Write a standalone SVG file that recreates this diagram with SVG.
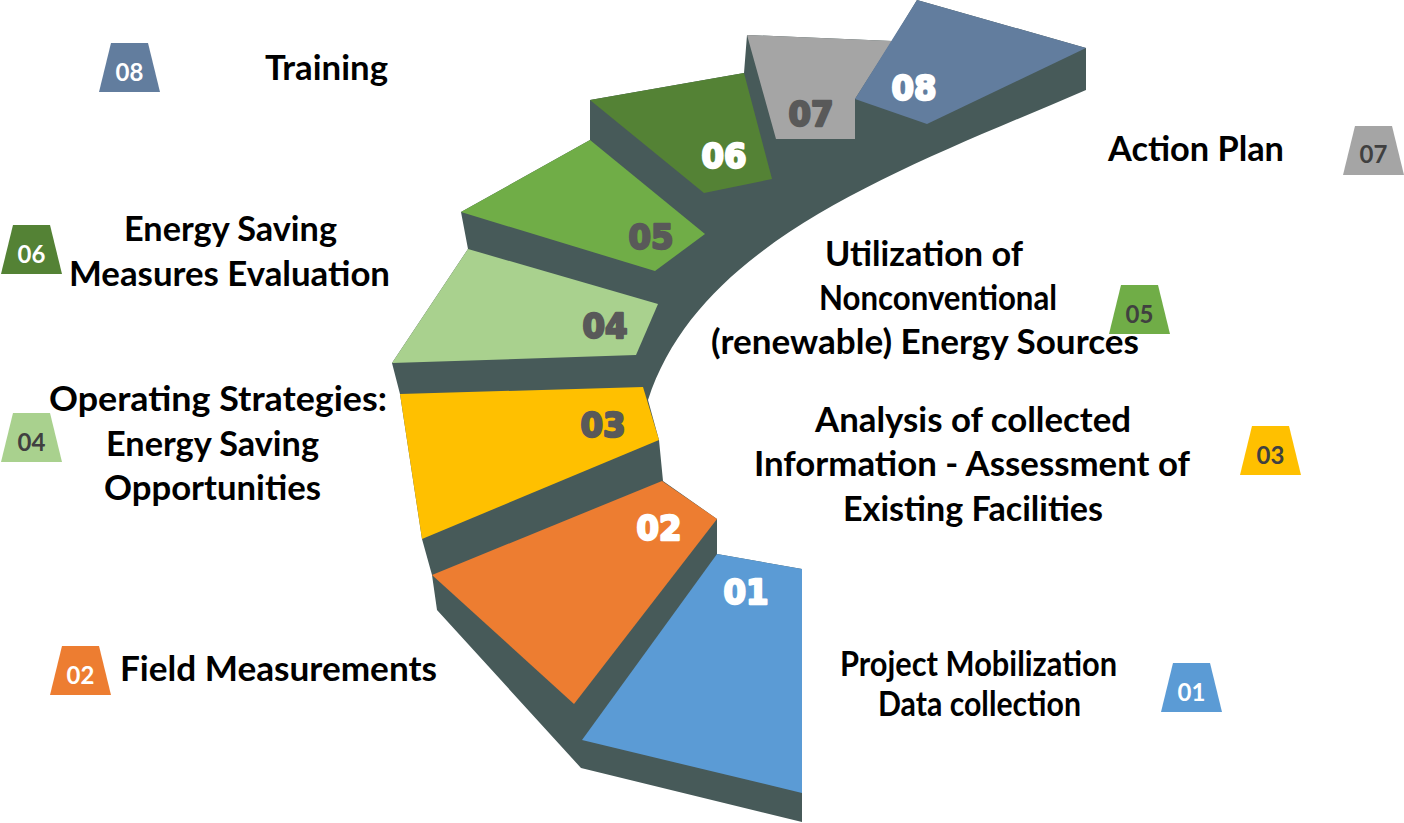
<svg xmlns="http://www.w3.org/2000/svg" width="1404" height="823" viewBox="0 0 1404 823">
<defs>
<style>
.num{font-family:"DejaVu Sans",sans-serif;font-weight:bold;font-size:34px;text-anchor:middle;stroke-width:2.4;stroke-linejoin:round;}
.nw{fill:#FFFFFF;stroke:#FFFFFF;}
.ng{fill:#595959;stroke:#595959;}
.lbl{font-family:Lato,"Open Sans",sans-serif;font-weight:bold;font-size:34px;fill:#000000;text-anchor:middle;}
.bt{font-family:Lato,"Open Sans",sans-serif;font-weight:bold;font-size:24px;text-anchor:middle;}
.bw{fill:#FFFFFF;}
.bd{fill:#404040;}
</style>
<polygon id="badge" points="12,0 49,0 61,49 0,49"/>
</defs>
<rect width="1404" height="823" fill="#FFFFFF"/>
<g id="body">
<path d="M1086,48 L1086,90 C900,170 700,240 648,400 L659,440 L663,481 L717,519 L717,554 L802,569 L802,822 L581,768 L437,610 L432,575 L422,539 L400,394 L392,363 L468,249 L461,212 L590,140 L590,100 L744,73 L747,35 L892,41 L917,0 Z" fill="#475A59"/>
</g>
<g id="step01"><polygon points="717,554 802,569 802,793 582,740" fill="#5B9BD5"/><text class="num nw" x="746" y="604" textLength="45" lengthAdjust="spacingAndGlyphs">01</text></g>
<g id="step02"><polygon points="432,575 662,481 717,519 574,704" fill="#ED7D31"/><text class="num nw" x="659" y="540" textLength="45" lengthAdjust="spacingAndGlyphs">02</text></g>
<g id="step03"><polygon points="400,394 643,387 659,440 422,539" fill="#FFC000"/><text class="num ng" x="603" y="437" textLength="45" lengthAdjust="spacingAndGlyphs">03</text></g>
<g id="step04"><polygon points="392,363 468,249 658,304 636,355" fill="#A9D18E"/><text class="num ng" x="605" y="338" textLength="45" lengthAdjust="spacingAndGlyphs">04</text></g>
<g id="step05"><polygon points="461,212 590,140 705,234 655,271" fill="#70AD47"/><text class="num ng" x="651" y="249" textLength="45" lengthAdjust="spacingAndGlyphs">05</text></g>
<g id="step06"><polygon points="590,100 744,73 772,179 704,193" fill="#548235"/><text class="num nw" x="724" y="168" textLength="45" lengthAdjust="spacingAndGlyphs">06</text></g>
<g id="step07"><polygon points="747,35 892,41 855,99 855,139 776,139" fill="#A5A5A5"/><text class="num ng" x="811" y="126" textLength="45" lengthAdjust="spacingAndGlyphs">07</text></g>
<g id="step08"><polygon points="917,0 1086,48 927,124 855,99" fill="#627D9E"/><text class="num nw" x="914" y="100" textLength="45" lengthAdjust="spacingAndGlyphs">08</text></g>

<g id="badge08"><use href="#badge" x="99" y="43" fill="#627D9E"/><text class="bt bw" x="129.5" y="81">08</text></g>
<g id="badge07"><use href="#badge" x="1343" y="126" fill="#A5A5A5"/><text class="bt bd" x="1373.5" y="163">07</text></g>
<g id="badge06"><use href="#badge" x="1" y="225" fill="#548235"/><text class="bt bw" x="31.5" y="263">06</text></g>
<g id="badge05"><use href="#badge" x="1109" y="285" fill="#70AD47"/><text class="bt bd" x="1139.5" y="323">05</text></g>
<g id="badge04"><use href="#badge" x="1" y="413" fill="#A9D18E"/><text class="bt bd" x="31.5" y="451">04</text></g>
<g id="badge03"><use href="#badge" x="1240" y="426" fill="#FFC000"/><text class="bt bd" x="1270.5" y="464">03</text></g>
<g id="badge02"><use href="#badge" x="50" y="646" fill="#ED7D31"/><text class="bt bw" x="80.5" y="684">02</text></g>
<g id="badge01"><use href="#badge" x="1161" y="663" fill="#5B9BD5"/><text class="bt bw" x="1191.5" y="701">01</text></g>

<g id="label08"><text class="lbl" x="326.5" y="80" textLength="123" lengthAdjust="spacingAndGlyphs">Training</text></g>
<g id="label07"><text class="lbl" x="1196" y="161" textLength="176" lengthAdjust="spacingAndGlyphs">Action Plan</text></g>
<g id="label06">
<text class="lbl" x="230.5" y="241" textLength="213" lengthAdjust="spacingAndGlyphs">Energy Saving</text>
<text class="lbl" x="229.5" y="286" textLength="321" lengthAdjust="spacingAndGlyphs">Measures Evaluation</text>
</g>
<g id="label05">
<text class="lbl" x="924" y="266" textLength="198" lengthAdjust="spacingAndGlyphs">Utilization of</text>
<text class="lbl" x="938" y="310" textLength="238" lengthAdjust="spacingAndGlyphs">Nonconventional</text>
<text class="lbl" x="925" y="354" textLength="428" lengthAdjust="spacingAndGlyphs">(renewable) Energy Sources</text>
</g>
<g id="label04">
<text class="lbl" x="218" y="411" textLength="338" lengthAdjust="spacingAndGlyphs">Operating Strategies:</text>
<text class="lbl" x="212.5" y="456" textLength="213" lengthAdjust="spacingAndGlyphs">Energy Saving</text>
<text class="lbl" x="212.5" y="500" textLength="217" lengthAdjust="spacingAndGlyphs">Opportunities</text>
</g>
<g id="label03">
<text class="lbl" x="973" y="432" textLength="316" lengthAdjust="spacingAndGlyphs">Analysis of collected</text>
<text class="lbl" x="972" y="476" textLength="436" lengthAdjust="spacingAndGlyphs">Information - Assessment of</text>
<text class="lbl" x="973" y="521" textLength="260" lengthAdjust="spacingAndGlyphs">Existing Facilities</text>
</g>
<g id="label02"><text class="lbl" x="278.5" y="681" textLength="317" lengthAdjust="spacingAndGlyphs">Field Measurements</text></g>
<g id="label01">
<text class="lbl" x="978.5" y="676" font-size="31" textLength="277" lengthAdjust="spacingAndGlyphs">Project Mobilization</text>
<text class="lbl" x="979.5" y="716" font-size="31" textLength="203" lengthAdjust="spacingAndGlyphs">Data collection</text>
</g>
</svg>
